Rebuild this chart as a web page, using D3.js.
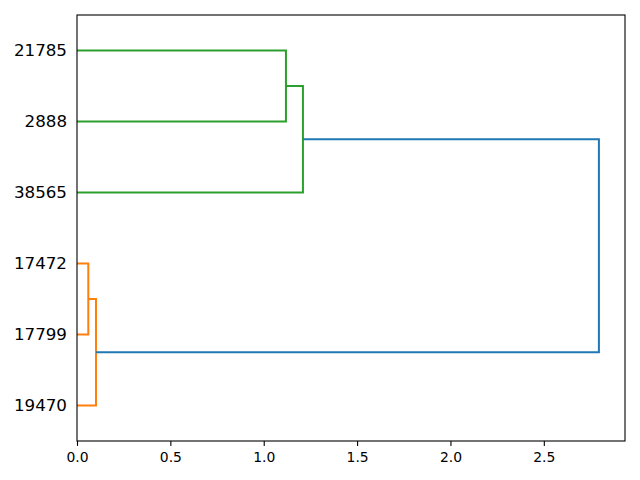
<!DOCTYPE html>
<html><head><meta charset="utf-8">
<script src="https://cdn.jsdelivr.net/npm/d3@7"></script>
<style>body{margin:0;background:#fff}</style>
</head><body>
<script>
// leaves in display order, bottom to top
const leafLabels = ["19470", "17799", "17472", "38565", "2888", "21785"];
// merges: [childA, childB, distance, colour]; children < 6 are leaves, >=6 are earlier merges
const merges = [
  [1, 2, 0.0605, "#ff7f0e"],
  [0, 6, 0.1017, "#ff7f0e"],
  [4, 5, 1.119, "#2ca02c"],
  [3, 8, 1.21, "#2ca02c"],
  [7, 9, 2.795, "#1f77b4"]
];
const xTicks = [0, 0.5, 1.0, 1.5, 2.0, 2.5];

const W = 640, H = 480;
const m = {l: 77, r: 15, t: 15, b: 39};
const svg = d3.select("body").append("svg").attr("width", W).attr("height", H);
const maxD = d3.max(merges, d => d[2]);
const x = d3.scaleLinear().domain([0, maxD * 1.05]).range([m.l, W - m.r]);
const y = d3.scaleLinear().domain([0, leafLabels.length * 10]).range([H - m.b, m.t]);

const pos = leafLabels.map((_, i) => ({yv: 10 * i + 5, d: 0}));
merges.forEach(([a, b, d, c]) => {
  const A = pos[a], B = pos[b];
  const path = d3.path();
  path.moveTo(x(A.d), y(A.yv));
  path.lineTo(x(d), y(A.yv));
  path.lineTo(x(d), y(B.yv));
  path.lineTo(x(B.d), y(B.yv));
  svg.append("path").attr("d", path.toString()).attr("fill", "none")
    .attr("stroke", c).attr("stroke-width", 2);
  pos.push({yv: (A.yv + B.yv) / 2, d: d});
});

// frame
svg.append("rect").attr("x", m.l).attr("y", m.t)
  .attr("width", W - m.l - m.r).attr("height", H - m.t - m.b)
  .attr("fill", "none").attr("stroke", "#000").attr("stroke-width", 1.1);

const xa = svg.append("g").attr("transform", `translate(0,${H - m.b})`)
  .call(d3.axisBottom(x).tickValues(xTicks).tickFormat(d3.format(".1f")).tickSize(4.9).tickPadding(6));
xa.select(".domain").remove();
xa.selectAll("text").attr("font-family", "DejaVu Sans").attr("font-size", "13.9px").attr("fill", "#000");
xa.selectAll("line").attr("stroke", "#000").attr("stroke-width", 1.1);

const ya = svg.append("g").attr("transform", `translate(${m.l},0)`)
  .call(d3.axisLeft(y).tickValues(leafLabels.map((_, i) => 10 * i + 5))
    .tickFormat((d, i) => leafLabels[i]).tickSize(0).tickPadding(10));
ya.select(".domain").remove();
ya.selectAll("text").attr("font-family", "DejaVu Sans").attr("font-size", "16.7px").attr("fill", "#000");
</script>
</body></html>
